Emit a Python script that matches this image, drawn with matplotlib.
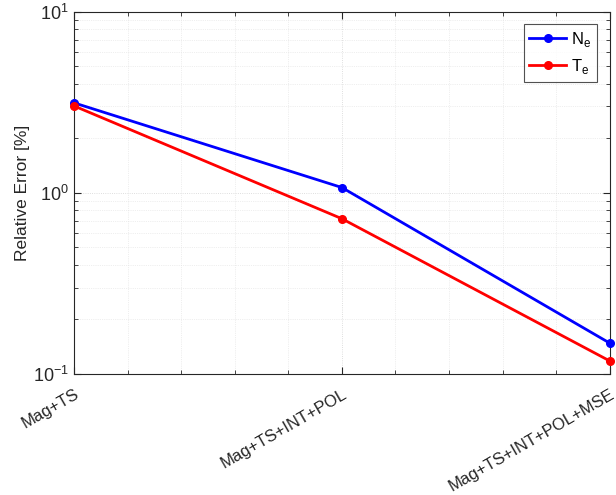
import numpy as np
import matplotlib.pyplot as plt
from matplotlib.ticker import LogLocator, NullFormatter, MultipleLocator

configs = ['Mag+TS', 'Mag+TS+INT+POL', 'Mag+TS+INT+POL+MSE']
ne_err = [3.14, 1.07, 0.148]
te_err = [3.02, 0.72, 0.118]

plt.rcParams['font.family'] = ['Liberation Sans', 'DejaVu Sans']

fig = plt.figure(figsize=(6.16, 4.95), dpi=100)
ax = fig.add_axes([0.120, 0.2444, 0.870, 0.732])

x = np.arange(len(configs))
ax.plot(x, ne_err, '-o', color='#0000ff', lw=2, ms=5.5, label='N$_\\mathregular{e}$', clip_on=False, zorder=3)
ax.plot(x, te_err, '-o', color='#ff0000', lw=2, ms=5.5, label='T$_\\mathregular{e}$', clip_on=False, zorder=3)

ax.set_yscale('log')
ax.set_ylim(0.1, 10)
ax.set_xlim(0, 2)
ax.set_xticks(x)
ax.set_xticklabels(configs, rotation=30, ha='right', rotation_mode='anchor', fontsize=12)
ax.xaxis.set_minor_locator(MultipleLocator(0.2))
ax.yaxis.set_major_locator(LogLocator(base=10, numticks=5))
ax.yaxis.set_minor_locator(LogLocator(base=10, subs=np.arange(2, 10), numticks=20))
ax.yaxis.set_minor_formatter(NullFormatter())
ax.tick_params(axis='both', which='both', direction='in', top=True, right=True, colors='#262626')
ax.tick_params(axis='y', labelsize=13)
ax.tick_params(axis='x', which='major', pad=9)
ax.tick_params(axis='x', which='minor', length=0)
ax.tick_params(which='major', length=5)
ax.tick_params(which='minor', length=3)

ax.grid(True, which='major', color='#d4d4d4', lw=0.6, ls=':')
ax.grid(True, which='minor', color='#e0e0e0', lw=0.5, ls=':')
for s in ax.spines.values():
    s.set_color('#262626')
    s.set_linewidth(0.8)

ax.set_ylabel('Relative Error [%]', fontsize=12.5, color='#262626', labelpad=2)

leg = ax.legend(loc='upper right', bbox_to_anchor=(0.976, 0.965), fontsize=12, frameon=True,
                fancybox=False, edgecolor='#262626', handlelength=2.2, handletextpad=0.3,
                borderpad=0.35, labelspacing=0.45, borderaxespad=0)
leg.get_frame().set_linewidth(0.8)

fig.savefig('out.png', dpi=100)
